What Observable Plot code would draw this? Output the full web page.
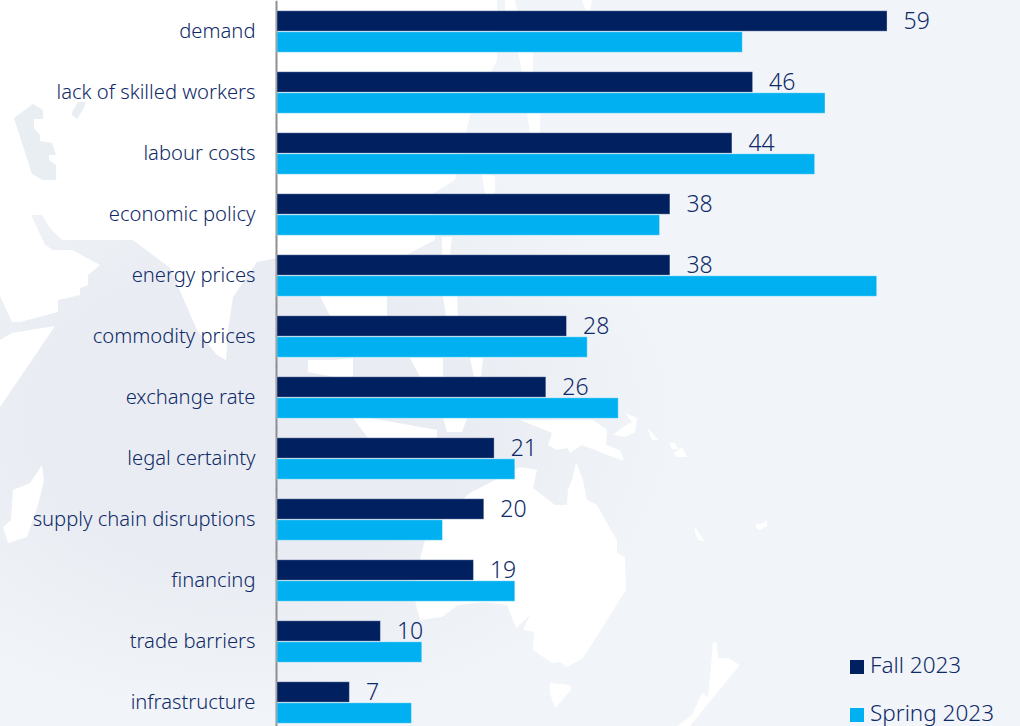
<!DOCTYPE html>
<html>
<head>
<meta charset="utf-8">
<script src="https://cdn.jsdelivr.net/npm/d3@7"></script>
<script src="https://cdn.jsdelivr.net/npm/@observablehq/plot@0.6"></script>
<style>
html,body{margin:0;padding:0;width:1020px;height:726px;overflow:hidden;background:#f1f4f8;}
#wrap{position:relative;width:1020px;height:726px;overflow:hidden;background:radial-gradient(ellipse 430px 300px at 250px 420px,#e9edf3 50%,#f1f4f8 100%);}
#map{position:absolute;left:0;top:0;width:1020px;height:726px;}
#chart{position:absolute;left:0;top:0;}
#chart svg{background:transparent!important;display:block;}
.lg{position:absolute;left:850px;font:300 22.5px "Noto Sans",sans-serif;color:#0f2a68;line-height:28px;white-space:nowrap;}
.lg i{display:inline-block;width:14px;height:14px;margin-right:6px;vertical-align:-1px;}
</style>
</head>
<body>
<div id="wrap"><div id="map" aria-hidden="true"></div><div id="chart"></div>
<div class="lg" style="top:651px"><i style="background:#002060"></i>Fall 2023</div>
<div class="lg" style="top:699px"><i style="background:#00b0f0"></i>Spring 2023</div>
</div>
<script>
const categories=["demand","lack of skilled workers","labour costs","economic policy","energy prices","commodity prices","exchange rate","legal certainty","supply chain disruptions","financing","trade barriers","infrastructure"];
const fall2023=[59,46,44,38,38,28,26,21,20,19,10,7];
const spring2023=[45,53,52,37,58,30,33,23,16,23,14,13];
const seriesNames=["Fall 2023","Spring 2023"];
const seriesColors=["#002060","#00b0f0"];

// Decorative world-map backdrop (page background only, not chart data)
const land=["0,0 497,0 497,60 470,115 455,180 432,194 435,240 400,258 277,258 257,262 233,297 228,330 226,360 217,355 197,330 170,268 133,240 80,240 62,240 50,228 42,215 31,215 45,245 53,250 72,250 100,265 88,275 88,285 80,288 80,295 58,300 58,312 20,322 12,322 0,296",
"0,340 12,333 55,326 0,407",
"42,465 30,483 13,490 11,520 3,527 8,543 27,537 38,505 44,480",
"576,462 583,480 587,500 597,505 607,523 617,540 617,553 625,557 626,590 583,658 567,667 560,662 552,663 533,650 534,632 523,630 530,615 516,628 507,605 483,602 458,605 442,617 420,620 412,590 425,540 440,520 470,493 520,467 537,470 533,488 555,505 567,505 568,490 572,480",
"550,683 570,685 571,690 555,708 550,693",
"713,642 717,643 718,658 728,658 740,665 690,726 677,726 692,715 702,693 708,697 710,678",
"625,413 637,418 635,432 625,437 613,435 623,427 632,422",
"600,430 607,432 606,445 620,450 624,460 600,448",
"647,427 658,440 652,440","669,443 675,443 678,449 672,449","682,447 687,457 677,457 674,453",
"695,527 705,542 698,540 695,533","755,525 763,523 767,520 767,526 760,530 757,529",
"520,420 552,433 548,445 557,450 567,448 570,453 582,445 623,461 618,450 603,443 607,430 593,420",
"320,296 387,296 387,316 350,318 330,316","443,296 457,296 458,316 446,316",
"308,360 335,360 353,358 353,377 335,377 308,372","410,358 443,358 443,377 420,377","470,358 483,358 481,377 474,377",
"353,418 370,418 437,430 437,438 368,438 362,430","443,418 467,418 462,432 447,432",
"442,237 452,237 450,255 442,255","482,174 495,176 495,194 485,194",
"527,113 540,113 540,134 530,134","518,52 533,52 533,72 522,72","505,0 515,0 517,11 505,11","582,0 592,0 590,11 586,11"];
const gulfs=["14,118 33,104 43,110 43,119 34,119 34,128 40,135 40,141 52,143 56,155 49,155 49,160 56,165 56,180 43,180 32,174",
"72,112 78,102 86,102 84,108 77,119 72,115"];
const mapSvg="<svg xmlns='http://www.w3.org/2000/svg' width='1020' height='726'>"
 +land.map(p=>`<polygon points='${p}' fill='white'/>`).join("")
 +gulfs.map(p=>`<polygon points='${p}' fill='#e9eef3'/>`).join("")+"</svg>";
document.getElementById("map").style.background=`url("data:image/svg+xml,${encodeURIComponent(mapSvg)}") no-repeat`;

const rows=categories.flatMap((c,i)=>[
 {category:c,series:seriesNames[0],value:fall2023[i]},
 {category:c,series:seriesNames[1],value:spring2023[i]}]);
const fallRows=rows.filter(d=>d.series===seriesNames[0]);
const plot=Plot.plot({
 width:1020,height:733,marginLeft:277,marginRight:0,marginTop:1,marginBottom:0,
 style:{background:"transparent",fontFamily:"'Noto Sans',sans-serif"},
 x:{domain:[0,71.86],axis:null},
 y:{domain:seriesNames,axis:null,paddingInner:0.03,paddingOuter:0,round:false},
 fy:{domain:categories,label:null,paddingInner:0.32,paddingOuter:0.16,round:false,axis:null},
 color:{domain:seriesNames,range:seriesColors},
 marks:[
  Plot.ruleX([0],{stroke:"#8f8f8f",strokeWidth:2,dx:-1,insetTop:-10,insetBottom:-10}),
  Plot.barX(rows,{x:"value",y:"series",fy:"category",fill:"series",stroke:"#ffffff",strokeOpacity:0.35,strokeWidth:1}),
  Plot.text(fallRows,{x:"value",y:"series",fy:"category",text:d=>String(d.value),textAnchor:"start",dx:16,dy:0.5,fontSize:23,fontWeight:300,fill:"#0f2a68"}),
  Plot.text(categories.map(c=>({category:c})),{x:0,fy:"category",frameAnchor:"middle",text:"category",textAnchor:"end",dx:-22,fontSize:20.2,fontWeight:300,fill:"#0f2a68"})
 ]
});
document.getElementById("chart").appendChild(plot);
</script>
</body>
</html>
